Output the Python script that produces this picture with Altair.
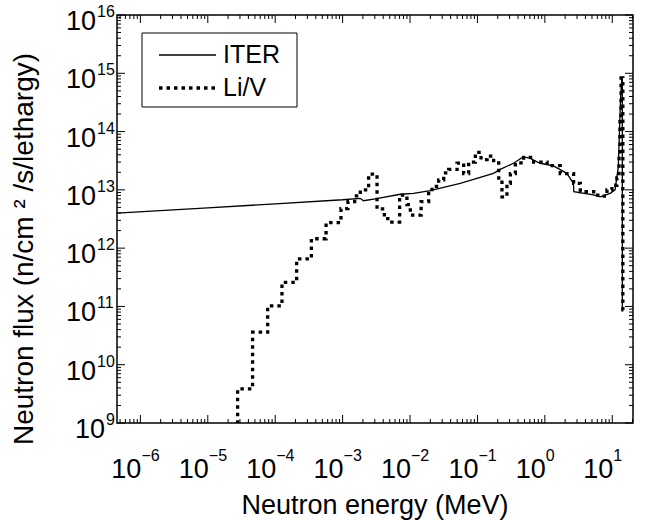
import altair as alt
import pandas as pd

# ---------------- data ----------------
# ITER spectrum (solid line)
iter_E = [4.47e-7, 1e-5, 1e-4, 1e-3, 1.82e-3, 2.04e-3, 3.05e-3, 7.16e-3, 1.13e-2, 1.99e-2,
          5.55e-2, 0.173, 0.217, 0.343, 0.482, 0.605, 0.851, 1.34, 2.12, 2.66, 2.69,
          5.26, 6.61, 9.29, 11.0, 12.3, 13.3, 13.9, 14.1, 14.1]
iter_F = [4.0e12, 4.9e12, 5.75e12, 6.76e12, 7.16e12, 6.5e12, 7.0e12, 8.4e12, 8.7e12, 9.7e12,
          1.29e13, 1.92e13, 2.24e13, 2.86e13, 3.7e13, 3.47e13, 2.86e13, 2.57e13, 1.92e13, 1.29e13, 9.3e12,
          8.2e12, 7.6e12, 8.7e12, 1.0e13, 2.5e13, 4.0e14, 8.5e14, 8.5e14, 8.7e10]

# Li/V spectrum (dotted step histogram: lower bin edge, flux)
liv_E = [1.66e-5, 2.77e-5, 4.62e-5, 7.73e-5, 1.26e-4, 2.08e-4, 3.44e-4, 5.68e-4, 9.46e-4,
         1.20e-3, 1.51e-3, 1.83e-3, 2.43e-3, 3.24e-3, 4.16e-3, 4.99e-3, 7.01e-3, 9.0e-3,
         1.01e-2, 1.46e-2, 1.89e-2, 2.12e-2, 2.66e-2, 3.16e-2, 3.74e-2, 4.98e-2, 6.25e-2,
         7.41e-2, 9.31e-2, 0.113, 0.139, 0.174, 0.207, 0.231, 0.274, 0.308, 0.365, 0.485,
         0.682, 1.08, 1.69, 2.67, 3.36, 5.30, 6.65, 8.34, 9.89, 11.7, 12.6, 13.0, 13.5,
         14.35, 15.0]
liv_F = [4.0e8, 3.84e9, 3.61e10, 1.02e11, 2.59e11, 6.52e11, 1.45e12, 2.74e12, 4.75e12,
         6.3e12, 7.9e12, 1.0e13, 1.86e13, 4.7e12, 3.2e12, 2.8e12, 8.1e12, 5.6e12,
         3.7e12, 6.3e12, 9.3e12, 1.15e13, 1.48e13, 1.95e13, 2.24e13, 2.88e13, 1.9e13,
         3.0e13, 4.4e13, 3.3e13, 3.8e13, 2.9e13, 1.48e13, 7.6e12, 1.29e13, 1.9e13, 2.9e13, 3.6e13,
         3.0e13, 2.6e13, 1.9e13, 1.29e13, 9.3e12, 8.1e12, 7.8e12, 1.0e13, 1.2e13, 1.6e13, 4.0e13,
         1.6e14, 8.3e14, 8.7e10, 8.7e10]

# axis ticks
x_major = [1e-6, 1e-5, 1e-4, 1e-3, 1e-2, 1e-1, 1e0, 1e1]
x_exp = ["\u22126", "\u22125", "\u22124", "\u22123", "\u22122", "\u22121", "0", "1"]
y_major = [1e9, 1e10, 1e11, 1e12, 1e13, 1e14, 1e15, 1e16]
y_exp = ["9", "10", "11", "12", "13", "14", "15", "16"]

X_DOM = [4.5e-7, 20.3]
Y_DOM = [1e9, 1e16]
x_minor = [k * 10.0 ** e for e in range(-7, 2) for k in range(2, 10)
           if X_DOM[0] <= k * 10.0 ** e <= X_DOM[1]]
y_minor = [k * 10.0 ** e for e in range(9, 16) for k in range(2, 10)]

# ---------------- chart ----------------
W, H = 516, 408
FONT = "Liberation Sans"
BASE_FS, EXP_FS = 27, 16
xscale = alt.Scale(type="log", domain=X_DOM, nice=False)
yscale = alt.Scale(type="log", domain=Y_DOM, nice=False)

iter_df = pd.DataFrame({"E": iter_E, "F": iter_F, "i": range(len(iter_E))})
liv_df = pd.DataFrame({"E": liv_E, "F": liv_F, "i": range(len(liv_E))})

iter_line = alt.Chart(iter_df).mark_line(color="black", strokeWidth=1.3, clip=True).encode(
    x=alt.X("E:Q", scale=xscale, axis=None),
    y=alt.Y("F:Q", scale=yscale, axis=None),
    order="i:Q",
)
liv_line = alt.Chart(liv_df).mark_line(
    color="black", strokeWidth=3.3, strokeDash=[3.5, 4], strokeCap="butt",
    interpolate="step-after", clip=True
).encode(
    x=alt.X("E:Q", scale=xscale, axis=None),
    y=alt.Y("F:Q", scale=yscale, axis=None),
    order="i:Q",
)


def xticks(vals, L):
    df = pd.DataFrame({"v": vals})
    b = alt.Chart(df).mark_rule(color="black", strokeWidth=1)
    X = alt.X("v:Q", scale=xscale, axis=None)
    return [b.encode(x=X, y=alt.value(H), y2=alt.value(H - L)),
            b.encode(x=X, y=alt.value(0), y2=alt.value(L))]


def yticks(vals, L):
    df = pd.DataFrame({"v": vals})
    b = alt.Chart(df).mark_rule(color="black", strokeWidth=1)
    Y = alt.Y("v:Q", scale=yscale, axis=None)
    return [b.encode(y=Y, x=alt.value(0), x2=alt.value(L)),
            b.encode(y=Y, x=alt.value(W), x2=alt.value(W - L))]


tick_layers = xticks(x_major, 8) + xticks(x_minor, 4) + yticks(y_major, 8) + yticks(y_minor, 4)

# tick labels
xl_df = pd.DataFrame({"v": x_major, "e": x_exp})
xl_base = alt.Chart(xl_df).mark_text(align="right", baseline="alphabetic", fontSize=BASE_FS, font=FONT, dx=1).encode(
    x=alt.X("v:Q", scale=xscale, axis=None), y=alt.value(H + 55), text=alt.value("10"))
xl_exp = alt.Chart(xl_df).mark_text(align="left", baseline="alphabetic", fontSize=EXP_FS, font=FONT, dx=1).encode(
    x=alt.X("v:Q", scale=xscale, axis=None), y=alt.value(H + 38), text="e:N")

yl_df = pd.DataFrame({"v": y_major, "e": y_exp, "n": [len(s) for s in y_exp]})
ylayers = []
for n, xb in [(2, -21), (1, -12)]:
    sub = alt.Chart(yl_df).transform_filter(alt.datum.n == n)
    ylayers.append(sub.mark_text(align="right", baseline="alphabetic", fontSize=BASE_FS, font=FONT, dy=15).encode(
        y=alt.Y("v:Q", scale=yscale, axis=None), x=alt.value(xb), text=alt.value("10")))
    ylayers.append(sub.mark_text(align="left", baseline="alphabetic", fontSize=EXP_FS, font=FONT, dy=2).encode(
        y=alt.Y("v:Q", scale=yscale, axis=None), x=alt.value(xb + 1), text="e:N"))

one = pd.DataFrame({"k": [0]})
x_title = alt.Chart(one).mark_text(fontSize=27, font=FONT, align="center", baseline="alphabetic").encode(
    x=alt.value(W / 2), y=alt.value(H + 91), text=alt.value("Neutron energy (MeV)"))
y_title = alt.Chart(one).mark_text(fontSize=28, font=FONT, align="center", baseline="middle", angle=270).encode(
    x=alt.value(-92), y=alt.value(234), text=alt.value("Neutron flux (n/cm  \u00b2 /s/lethargy)"))

# legend
leg_box = alt.Chart(one).mark_rect(fill="white", stroke="black", strokeWidth=1).encode(
    x=alt.value(25), x2=alt.value(180), y=alt.value(18), y2=alt.value(92))
leg_iter = alt.Chart(one).mark_rule(color="black", strokeWidth=1.3).encode(
    x=alt.value(42), x2=alt.value(99), y=alt.value(40))
leg_liv = alt.Chart(one).mark_rule(color="black", strokeWidth=3.3, strokeDash=[3.5, 4], strokeCap="butt").encode(
    x=alt.value(42), x2=alt.value(99), y=alt.value(73))
leg_t1 = alt.Chart(one).mark_text(fontSize=25, font=FONT, align="left", baseline="middle").encode(
    x=alt.value(106), y=alt.value(40), text=alt.value("ITER"))
leg_t2 = alt.Chart(one).mark_text(fontSize=25, font=FONT, align="left", baseline="middle").encode(
    x=alt.value(106), y=alt.value(73), text=alt.value("Li/V"))

chart = alt.layer(
    iter_line, liv_line, *tick_layers, xl_base, xl_exp, *ylayers, x_title, y_title,
    leg_box, leg_iter, leg_liv, leg_t1, leg_t2
).properties(
    width=W, height=H,
    autosize=alt.AutoSizeParams(type="none"),
    padding={"left": 117, "top": 15, "right": 14, "bottom": 97},
    background="white",
).configure_view(stroke="black", strokeWidth=1.5)

chart.save("out.html", embed_options={"renderer": "svg", "actions": False})
